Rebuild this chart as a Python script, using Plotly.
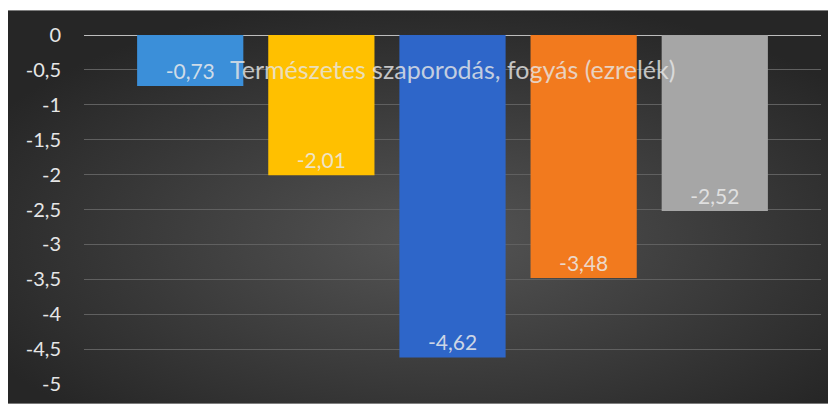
import base64
import plotly.graph_objects as go

# ---- data ----
series_idx = [0, 1, 2, 3, 4]
values = [-0.73, -2.01, -4.62, -3.48, -2.52]
labels = ["-0,73", "-2,01", "-4,62", "-3,48", "-2,52"]
bar_colors = ["#3b8fd9", "#ffc000", "#2e66c9", "#f27a1e", "#a6a6a6"]
tick_vals = [0, -0.5, -1, -1.5, -2, -2.5, -3, -3.5, -4, -4.5, -5]
tick_text = ["0", "-0,5", "-1", "-1,5", "-2", "-2,5", "-3", "-3,5", "-4", "-4,5", "-5"]
title_text = "Természetes szaporodás, fogyás (ezrelék)"

# page body has an 8px margin, so the figure is sized/offset accordingly
W, H = 828, 399
ML, MR, MT, MB = 76, 15, 27, 20
pw = W - ML - MR
ph = H - MT - MB

# radial gradient background as svg data-uri
svg = (
    '<svg xmlns="http://www.w3.org/2000/svg" width="829" height="397" viewBox="0 0 829 397" preserveAspectRatio="none">'
    '<defs><radialGradient id="g" cx="52%" cy="58%" r="62%">'
    '<stop offset="0%" stop-color="#555555"/>'
    '<stop offset="100%" stop-color="#262626"/>'
    '</radialGradient></defs>'
    '<rect width="829" height="397" fill="url(#g)"/></svg>'
)
src = "data:image/svg+xml;base64," + base64.b64encode(svg.encode()).decode()

x0 = (0 - ML) / pw
x1 = (W - ML) / pw
y1 = (H - MB - 2) / ph
y0 = (H - MB - H) / ph

fig = go.Figure()
fig.add_trace(go.Bar(
    x=series_idx,
    y=values,
    width=0.81,
    marker=dict(color=bar_colors, line=dict(width=0)),
    text=labels,
    textposition="inside",
    insidetextanchor="end",
    textangle=0,
    textfont=dict(family="Lato, sans-serif", size=21, color="rgba(235,235,235,0.85)"),
    hoverinfo="skip",
    cliponaxis=False,
))

fig.add_annotation(
    text=title_text,
    xref="paper", yref="paper",
    x=0.5, y=(ph - 34) / ph,
    xanchor="center", yanchor="middle",
    showarrow=False,
    font=dict(family="Lato, sans-serif", size=25, color="rgba(230,230,230,0.82)"),
)

fig.update_layout(
    width=W, height=H,
    margin=dict(l=ML, r=MR, t=MT, b=MB, pad=0),
    paper_bgcolor="white",
    plot_bgcolor="rgba(0,0,0,0)",
    showlegend=False,
    images=[dict(
        source=src, xref="paper", yref="paper",
        x=x0, y=y1, sizex=x1 - x0, sizey=y1 - y0,
        xanchor="left", yanchor="top", sizing="stretch", layer="below",
    )],
    xaxis=dict(
        range=[-0.81, 4.81], showticklabels=False, showgrid=False,
        zeroline=False, showline=False, fixedrange=True,
    ),
    yaxis=dict(
        range=[-5, 0], tickvals=tick_vals, ticktext=tick_text,
        showgrid=True, gridcolor="#606060", gridwidth=1,
        zeroline=True, zerolinecolor="#bdbdbd", zerolinewidth=1,
        showline=False, ticks="", ticklabelstandoff=22,
        tickfont=dict(family="Lato, sans-serif", size=20, color="#e6e6e6"),
        fixedrange=True,
    ),
)

fig.write_html("out.html")
